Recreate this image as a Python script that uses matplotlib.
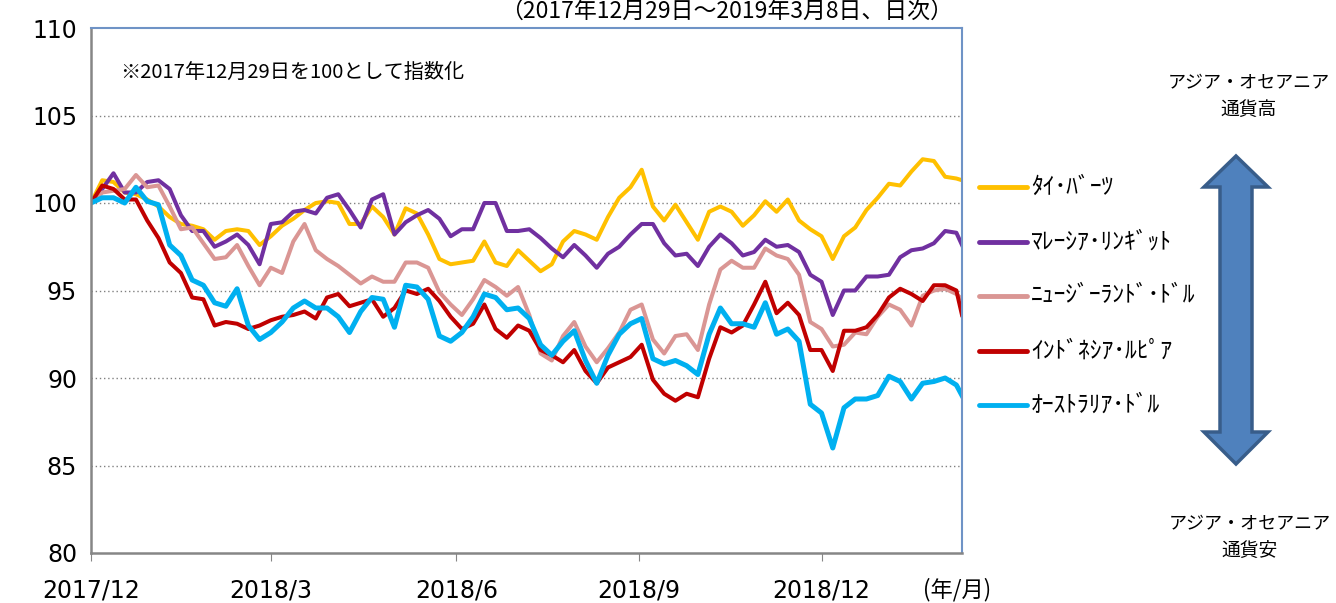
import matplotlib
matplotlib.use("Agg")
import matplotlib.pyplot as plt
from matplotlib.lines import Line2D
from matplotlib.patches import Polygon

plt.rcParams['font.family'] = ['DejaVu Sans']
JP = ['Noto Sans CJK JP', 'DejaVu Sans']

# trading-day index of each reading (every 4th business day, plus the last day)
day_idx = list(range(0, 309, 4)) + [310]

# index values (2017/12/29 = 100)
thb = [100.0, 101.3, 101.2, 100.6, 100.5, 100.2, 99.8, 99.2, 98.8, 98.7,
       98.5, 97.9, 98.4, 98.5, 98.4, 97.6, 98.1, 98.7, 99.1, 99.6,
       100.0, 100.1, 100.0, 98.8, 98.8, 99.8, 99.2, 98.2, 99.7, 99.4,
       98.2, 96.8, 96.5, 96.6, 96.7, 97.8, 96.6, 96.4, 97.3, 96.7,
       96.1, 96.5, 97.8, 98.4, 98.2, 97.9, 99.2, 100.3, 100.9, 101.9,
       99.8, 99.0, 99.9, 98.9, 97.9, 99.5, 99.8, 99.5, 98.7, 99.3,
       100.1, 99.5, 100.2, 99.0, 98.5, 98.1, 96.8, 98.1, 98.6, 99.6,
       100.3, 101.1, 101.0, 101.8, 102.5, 102.4, 101.5, 101.4, 101.3]
myr = [100.0, 100.8, 101.7, 100.6, 100.6, 101.2, 101.3, 100.8, 99.3, 98.4,
       98.4, 97.5, 97.8, 98.2, 97.6, 96.5, 98.8, 98.9, 99.5, 99.6,
       99.4, 100.3, 100.5, 99.6, 98.6, 100.2, 100.5, 98.2, 98.9, 99.3,
       99.6, 99.1, 98.1, 98.5, 98.5, 100.0, 100.0, 98.4, 98.4, 98.5,
       98.0, 97.4, 96.9, 97.6, 97.0, 96.3, 97.1, 97.5, 98.2, 98.8,
       98.8, 97.7, 97.0, 97.1, 96.4, 97.5, 98.2, 97.7, 97.0, 97.2,
       97.9, 97.5, 97.6, 97.2, 95.9, 95.5, 93.6, 95.0, 95.0, 95.8,
       95.8, 95.9, 96.9, 97.3, 97.4, 97.7, 98.4, 98.3, 97.6]
nzd = [100.0, 100.6, 100.7, 100.8, 101.6, 100.9, 101.0, 99.8, 98.5, 98.6,
       97.7, 96.8, 96.9, 97.6, 96.4, 95.3, 96.3, 96.0, 97.8, 98.8,
       97.3, 96.8, 96.4, 95.9, 95.4, 95.8, 95.5, 95.5, 96.6, 96.6,
       96.3, 94.9, 94.2, 93.6, 94.5, 95.6, 95.2, 94.7, 95.2, 93.6,
       91.4, 91.0, 92.4, 93.2, 91.8, 90.9, 91.7, 92.6, 93.9, 94.2,
       92.2, 91.4, 92.4, 92.5, 91.6, 94.2, 96.2, 96.7, 96.3, 96.3,
       97.4, 97.0, 96.8, 95.9, 93.2, 92.8, 91.8, 91.9, 92.6, 92.5,
       93.5, 94.2, 93.9, 93.0, 94.7, 95.0, 95.1, 94.8, 94.5]
idr = [100.0, 101.0, 100.8, 100.2, 100.2, 99.0, 98.0, 96.6, 96.0, 94.6,
       94.5, 93.0, 93.2, 93.1, 92.8, 93.0, 93.3, 93.5, 93.6, 93.8,
       93.4, 94.6, 94.8, 94.1, 94.3, 94.5, 93.5, 94.0, 95.0, 94.8,
       95.1, 94.4, 93.5, 92.8, 93.1, 94.2, 92.8, 92.3, 93.0, 92.7,
       91.6, 91.3, 90.9, 91.6, 90.4, 89.7, 90.6, 90.9, 91.2, 91.9,
       89.9, 89.1, 88.7, 89.1, 88.9, 91.1, 92.9, 92.6, 93.0, 94.2,
       95.5, 93.7, 94.3, 93.6, 91.6, 91.6, 90.4, 92.7, 92.7, 92.9,
       93.6, 94.6, 95.1, 94.8, 94.4, 95.3, 95.3, 95.0, 93.6]
aud = [100.0, 100.3, 100.3, 100.0, 100.9, 100.1, 99.9, 97.6, 97.0, 95.6,
       95.3, 94.3, 94.1, 95.1, 93.0, 92.2, 92.6, 93.2, 94.0, 94.4,
       94.0, 94.0, 93.5, 92.6, 93.8, 94.6, 94.5, 92.9, 95.3, 95.2,
       94.5, 92.4, 92.1, 92.6, 93.5, 94.8, 94.6, 93.9, 94.0, 93.4,
       91.9, 91.3, 92.1, 92.7, 91.0, 89.7, 91.3, 92.5, 93.1, 93.4,
       91.1, 90.8, 91.0, 90.7, 90.2, 92.5, 94.0, 93.1, 93.1, 92.9,
       94.3, 92.5, 92.8, 92.1, 88.5, 88.0, 86.0, 88.3, 88.8, 88.8,
       89.0, 90.1, 89.8, 88.8, 89.7, 89.8, 90.0, 89.6, 89.0]

labels = ['ﾀｲ･ﾊﾞｰﾂ', 'ﾏﾚｰｼｱ･ﾘﾝｷﾞｯﾄ', 'ﾆｭｰｼﾞｰﾗﾝﾄﾞ･ﾄﾞﾙ', 'ｲﾝﾄﾞﾈｼｱ･ﾙﾋﾟｱ', 'ｵｰｽﾄﾗﾘｱ･ﾄﾞﾙ']
colors = ['#FFC000', '#7030A0', '#DA9694', '#C00000', '#00B0F0']
widths = [2.9, 2.9, 2.9, 2.9, 3.6]
series = [thb, myr, nzd, idr, aud]

tick_days = [0, 64, 130, 195, 260]
tick_labels = ['2017/12', '2018/3', '2018/6', '2018/9', '2018/12']

W, H = 1336, 603
fig = plt.figure(figsize=(W / 100, H / 100), dpi=100)
ax = fig.add_axes([91 / W, 1 - 553 / H, 871 / W, 525 / H])

for vals, c, lw in zip(series, colors, widths):
    ax.plot(day_idx, vals, color=c, lw=lw, solid_joinstyle='round')

ax.set_xlim(0, 310)
ax.set_ylim(80, 110)
ax.set_yticks(range(80, 111, 5))
ax.set_xticks(tick_days)
ax.set_xticklabels(tick_labels)
ax.tick_params(axis='y', length=0, pad=10, labelsize=17)
ax.tick_params(axis='x', length=6, color='#868686', pad=12, labelsize=17)
for y in range(85, 110, 5):
    ax.axhline(y, color='#808080', lw=1, ls=(0, (1, 2)), zorder=0)
for s in ['left', 'bottom']:
    ax.spines[s].set_color('#868686')
    ax.spines[s].set_linewidth(1.8)
for s in ['top', 'right']:
    ax.spines[s].set_color('#6F93C6')
    ax.spines[s].set_linewidth(1.5)

ax.text(0.033, 0.915, '※2017年12月29日を100として指数化', transform=ax.transAxes,
        fontsize=14.5, family=JP, va='center', ha='left')

def fx(px):
    return px / W

def fy(py):
    return 1 - py / H

fig.text(fx(726), fy(11), '（2017年12月29日～2019年3月8日、日次）', fontsize=16.5,
         family=JP, ha='center', va='center')
fig.text(fx(957), fy(590), '(年/月)', fontsize=16, family=JP, ha='center', va='center')

# legend, drawn beside the plot
row_y = [187, 242, 296, 351, 405]
for ry, lab, c in zip(row_y, labels, colors):
    fig.add_artist(Line2D([fx(979), fx(1027)], [fy(ry), fy(ry)], color=c, lw=3.5,
                          solid_capstyle='round'))
    fig.text(fx(1031), fy(ry), lab, fontsize=17, family=JP, ha='left', va='center')

# double arrow
cx, hw, sw = 1236, 32, 16
pts = [(cx, 156), (cx + hw, 187), (cx + sw, 187), (cx + sw, 432), (cx + hw, 432),
       (cx, 464), (cx - hw, 432), (cx - sw, 432), (cx - sw, 187), (cx - hw, 187)]
fig.add_artist(Polygon([(fx(x), fy(y)) for x, y in pts], closed=True,
                       facecolor='#4F81BD', edgecolor='#385D8A', lw=2.5,
                       transform=fig.transFigure))

fig.text(fx(1249), fy(82), 'アジア・オセアニア', fontsize=13, family=JP, ha='center', va='center')
fig.text(fx(1249), fy(109), '通貨高', fontsize=13.5, family=JP, ha='center', va='center')
fig.text(fx(1250), fy(523), 'アジア・オセアニア', fontsize=13, family=JP, ha='center', va='center')
fig.text(fx(1250), fy(550), '通貨安', fontsize=13.5, family=JP, ha='center', va='center')

fig.savefig('out.png', dpi=100)
plt.close()
